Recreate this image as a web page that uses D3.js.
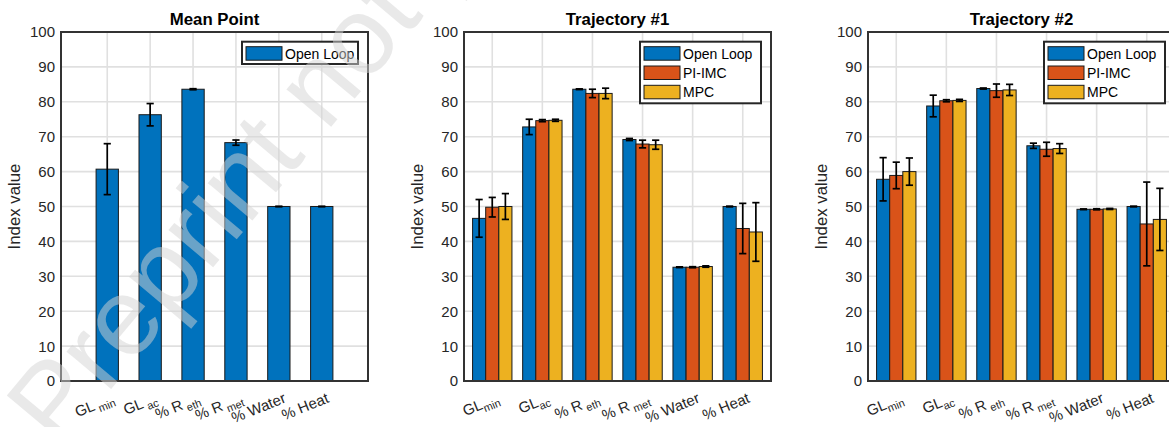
<!DOCTYPE html>
<html>
<head>
<meta charset="utf-8">
<script src="https://cdn.jsdelivr.net/npm/d3@7"></script>
<style>
  body { margin: 0; background: #fff; }
  svg { display: block; }
  text { font-family: "Liberation Sans", Arial, Helvetica, sans-serif; fill: #262626; }
</style>
</head>
<body>
<svg id="chart" width="1169" height="427"></svg>
<script>
// ---- data ----
const tickBase = ["GL", "GL", "% R", "% R", "% Water", "% Heat"];
const tickSubMean = [" min", " ac", " eth", " met", "", ""];
const tickSubTraj = ["min", "ac", " eth", " met", "", ""];
const seriesNames = ["Open Loop", "PI-IMC", "MPC"];
const yTicks = [0, 10, 20, 30, 40, 50, 60, 70, 80, 90, 100];

// Mean point (open loop only)
const meanOpenLoop    = [60.7, 76.3, 83.6, 68.3, 50.0, 50.0];
const meanOpenLoopErr = [7.3, 3.2, 0.15, 0.75, 0.05, 0.05];

// Trajectory #1
const t1OpenLoop    = [46.6, 72.8, 83.6, 69.2, 32.6, 50.0];
const t1OpenLoopErr = [5.4, 2.2, 0.1, 0.3, 0.1, 0.1];
const t1PIIMC       = [49.8, 74.6, 82.4, 67.9, 32.6, 43.7];
const t1PIIMCErr    = [2.8, 0.3, 1.2, 1.1, 0.15, 7.2];
const t1MPC         = [50.0, 74.7, 82.4, 67.7, 32.8, 42.7];
const t1MPCErr      = [3.7, 0.3, 1.5, 1.3, 0.2, 8.4];

// Trajectory #2
const t2OpenLoop    = [57.8, 78.8, 83.8, 67.4, 49.2, 50.0];
const t2OpenLoopErr = [6.2, 3.1, 0.15, 0.75, 0.1, 0.1];
const t2PIIMC       = [58.9, 80.3, 83.2, 66.4, 49.2, 45.0];
const t2PIIMCErr    = [3.8, 0.3, 1.9, 2.0, 0.15, 12.0];
const t2MPC         = [60.0, 80.4, 83.4, 66.6, 49.3, 46.3];
const t2MPCErr      = [3.9, 0.3, 1.6, 1.4, 0.15, 8.9];

const watermarkText = "Preprint not peer reviewed";

const colors = ["#0072BD", "#D95319", "#EDB120"];

const panels = [
  { title: "Mean Point", left: 61, subs: tickSubMean, padding: 1.078, barFrac: 0.52,
    series: [{ v: meanOpenLoop, e: meanOpenLoopErr }], legendW: 116 },
  { title: "Trajectory #1", left: 464, subs: tickSubTraj, padding: 0.564, barFrac: 0.262,
    series: [{ v: t1OpenLoop, e: t1OpenLoopErr }, { v: t1PIIMC, e: t1PIIMCErr }, { v: t1MPC, e: t1MPCErr }], legendW: 121 },
  { title: "Trajectory #2", left: 868, subs: tickSubTraj, padding: 0.564, barFrac: 0.262,
    series: [{ v: t2OpenLoop, e: t2OpenLoopErr }, { v: t2PIIMC, e: t2PIIMCErr }, { v: t2MPC, e: t2MPCErr }], legendW: 121 }
];

const svg = d3.select("#chart");
const plotW = 307, plotTop = 32, plotBottom = 381;
const y = d3.scaleLinear().domain([0, 100]).range([plotBottom, plotTop]);

panels.forEach(p => {
  const g = svg.append("g");
  const right = p.left + plotW;
  const idx = d3.range(tickBase.length);
  const x = d3.scalePoint().domain(idx).range([p.left, right]).padding(p.padding);
  const step = x.step();
  const bw = step * p.barFrac;
  const ns = p.series.length;

  // grid
  g.append("g").selectAll("line").data(yTicks.slice(1, -1)).join("line")
    .attr("x1", p.left).attr("x2", right).attr("y1", d => y(d)).attr("y2", d => y(d))
    .attr("stroke", "#e0e0e0").attr("stroke-width", 1.6);
  g.append("g").selectAll("line").data(idx).join("line")
    .attr("x1", d => x(d)).attr("x2", d => x(d)).attr("y1", plotTop).attr("y2", plotBottom)
    .attr("stroke", "#e0e0e0").attr("stroke-width", 1.6);

  // bars
  p.series.forEach((s, si) => {
    const off = (si - (ns - 1) / 2) * bw;
    g.append("g").selectAll("rect").data(s.v).join("rect")
      .attr("x", (d, i) => x(i) + off - bw / 2)
      .attr("width", bw)
      .attr("y", d => y(d))
      .attr("height", d => plotBottom - y(d))
      .attr("fill", colors[si])
      .attr("stroke", "#1a1a1a").attr("stroke-width", 1);
  });

  // error bars
  p.series.forEach((s, si) => {
    const off = (si - (ns - 1) / 2) * bw;
    const eg = g.append("g").attr("stroke", "#000").attr("stroke-width", 1.7).attr("fill", "none");
    s.v.forEach((v, i) => {
      const cx = x(i) + off, hi = y(v + s.e[i]), lo = y(v - s.e[i]);
      eg.append("line").attr("x1", cx).attr("x2", cx).attr("y1", hi).attr("y2", lo);
      eg.append("line").attr("x1", cx - 3.6).attr("x2", cx + 3.6).attr("y1", hi).attr("y2", hi);
      eg.append("line").attr("x1", cx - 3.6).attr("x2", cx + 3.6).attr("y1", lo).attr("y2", lo);
    });
  });

  // axes box
  g.append("rect").attr("x", p.left).attr("y", plotTop).attr("width", plotW).attr("height", plotBottom - plotTop)
    .attr("fill", "none").attr("stroke", "#333").attr("stroke-width", 2);

  // y tick labels
  g.append("g").selectAll("text").data(yTicks).join("text")
    .attr("x", p.left - 6).attr("y", d => y(d)).attr("dy", "0.36em")
    .attr("text-anchor", "end").attr("font-size", 15).text(d => d);

  // x tick labels (rotated, with subscripts)
  idx.forEach(i => {
    const t = g.append("text")
      .attr("transform", `translate(${x(i) + 8},${plotBottom + 21}) rotate(-22)`)
      .attr("text-anchor", "end").attr("font-size", 15);
    t.append("tspan").text(tickBase[i]);
    if (p.subs[i]) t.append("tspan").attr("font-size", 11).attr("dy", 4).text(p.subs[i]);
  });

  // title
  g.append("text").attr("x", p.left + plotW / 2).attr("y", 25)
    .attr("text-anchor", "middle").attr("font-size", 16.8).attr("font-weight", "bold")
    .style("fill", "#000").text(p.title);

  // y label
  g.append("text").attr("transform", `translate(${p.left - 41},${(plotTop + plotBottom) / 2}) rotate(-90)`)
    .attr("text-anchor", "middle").attr("font-size", 16.8).text("Index value");

  // legend
  const lw = p.legendW, lh = ns === 1 ? 22.3 : 61.6;
  const lx = right - 10 - lw, ly = 41.7;
  const lg = g.append("g");
  lg.append("rect").attr("x", lx).attr("y", ly).attr("width", lw).attr("height", lh)
    .attr("fill", "#fff").attr("stroke", "#262626").attr("stroke-width", 2);
  p.series.forEach((s, si) => {
    const ry = ly + 5 + si * 19.3;
    lg.append("rect").attr("x", lx + 4).attr("y", ry).attr("width", 36).attr("height", 13.5)
      .attr("fill", colors[si]).attr("stroke", "#1a1a1a").attr("stroke-width", 1);
    lg.append("text").attr("x", lx + 43).attr("y", ry + 12).attr("font-size", 14)
      .style("fill", "#000").text(seriesNames[si]);
  });
});

// diagonal watermark across the left of the figure
svg.append("text")
  .attr("transform", "translate(59,451) rotate(-50)")
  .attr("font-size", 110)
  .style("fill", "#d4d4d4").style("fill-opacity", 0.5)
  .text(watermarkText);
</script>
</body>
</html>
